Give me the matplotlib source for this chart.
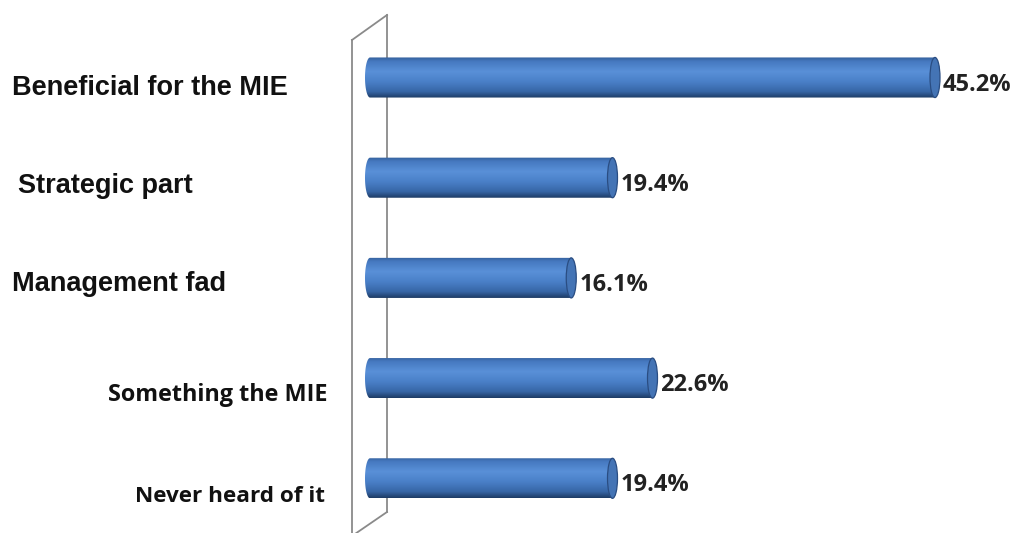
import numpy as np
import matplotlib
matplotlib.use('Agg')
import matplotlib.pyplot as plt
from matplotlib.colors import LinearSegmentedColormap
from matplotlib.patches import Ellipse, PathPatch
from matplotlib.path import Path
from matplotlib.transforms import blended_transform_factory
from matplotlib.lines import Line2D

# Survey answers and their shares (%)
categories = ['Beneficial for the MIE', 'Strategic part', 'Management fad',
              'Something the MIE', 'Never heard of it']
values = [45.2, 19.4, 16.1, 22.6, 19.4]
value_labels = ['45.2%', '19.4%', '16.1%', '22.6%', '19.4%']

W, H = 1017, 533
fig = plt.figure(figsize=(W / 100, H / 100), dpi=100)
ax = fig.add_axes([0, 0, 1, 1])
ax.set_axis_off()

# horizontal scale: 12.5 px per percent, zero at x=370 px
x_per = 12.5
x0_px = 370
# rows are 100 px apart, first centre at 77.5 px from the top
row = 100.2

pos = np.arange(len(categories))
bar_h = 0.40
bars = ax.barh(pos, values, height=bar_h, color='none', edgecolor='none')

# cylinder shading, top to bottom
cyl = LinearSegmentedColormap.from_list('cyl', [
    (0.00, '#34609c'), (0.10, '#4679c0'), (0.35, '#5990d8'),
    (0.60, '#4a80c8'), (0.85, '#3766a6'), (1.00, '#1e3c66')])
grad = np.linspace(0, 1, 64).reshape(-1, 1)

cap_w = 10 / x_per  # width of the end ellipses in data units
for b in bars:
    x0, y0, w, h = b.get_x(), b.get_y(), b.get_width(), b.get_height()
    yc = y0 + h / 2
    x1 = x0 + w
    # body outline with rounded left end
    t = np.linspace(np.pi / 2, 3 * np.pi / 2, 40)
    arc = np.column_stack([x0 + cap_w / 2 * np.cos(t), yc - h / 2 * np.sin(t)])
    verts = np.vstack([[x1, y0], [x0, y0], arc, [x1, y0 + h], [x1, y0]])
    codes = [Path.MOVETO] + [Path.LINETO] * (len(verts) - 2) + [Path.CLOSEPOLY]
    body = PathPatch(Path(verts, codes), facecolor='none', edgecolor='none')
    ax.add_patch(body)
    im = ax.imshow(grad, cmap=cyl, aspect='auto', interpolation='bilinear',
                   extent=[x0 - cap_w, x1, y0 + h, y0], zorder=3)
    im.set_clip_path(body)
    # end face of the cylinder
    ax.add_patch(Ellipse((x1, yc), cap_w, h, facecolor='#4474b5',
                         edgecolor='#2a4d82', lw=0.9, zorder=4))

ax.set_xlim(-x0_px / x_per, (W - x0_px) / x_per)
ax.set_ylim((H - 77.5) / row, -77.5 / row)

# value labels at the bar ends
for b, lab in zip(bars, value_labels):
    ax.annotate(lab, (b.get_x() + b.get_width(), b.get_y() + b.get_height() / 2),
                xytext=(8, -13), textcoords='offset pixels', va='baseline', ha='left',
                fontsize=17, fontweight='bold', family='Open Sans', color='#222222')

# category labels (mixed fonts as in the original workbook)
fx = blended_transform_factory(fig.transFigure, ax.transData)
label_style = [
    dict(x=12, dy=17, ha='left', family='Liberation Sans', size=19.5),
    dict(x=18, dy=15, ha='left', family='Liberation Sans', size=19.5),
    dict(x=12, dy=13, ha='left', family='Liberation Sans', size=19.5),
    dict(x=327, dy=23, ha='right', family='Open Sans', size=16.8),
    dict(x=325, dy=24, ha='right', family='Open Sans', size=16.2),
]
for p, cat, st in zip(pos, categories, label_style):
    ax.annotate(cat, (st['x'] / W, p), xycoords=fx,
                xytext=(0, -st['dy']), textcoords='offset pixels',
                ha=st['ha'], va='baseline', family=st['family'],
                fontsize=st['size'], fontweight='bold', color='#111111')

# back wall of the 3-D plot area
def px(x, y):
    return x / W, 1 - y / H

wall = [[(352, 40), (387, 15)], [(387, 15), (387, 512)],
        [(387, 512), (352, 536)], [(352, 40), (352, 536)]]
for seg in wall:
    (xa, ya), (xb, yb) = px(*seg[0]), px(*seg[1])
    ax.add_line(Line2D([xa, xb], [ya, yb], transform=fig.transFigure,
                       color='#8a8a8a', lw=1.3, zorder=1, clip_on=False))

fig.savefig('out.png', dpi=100)
